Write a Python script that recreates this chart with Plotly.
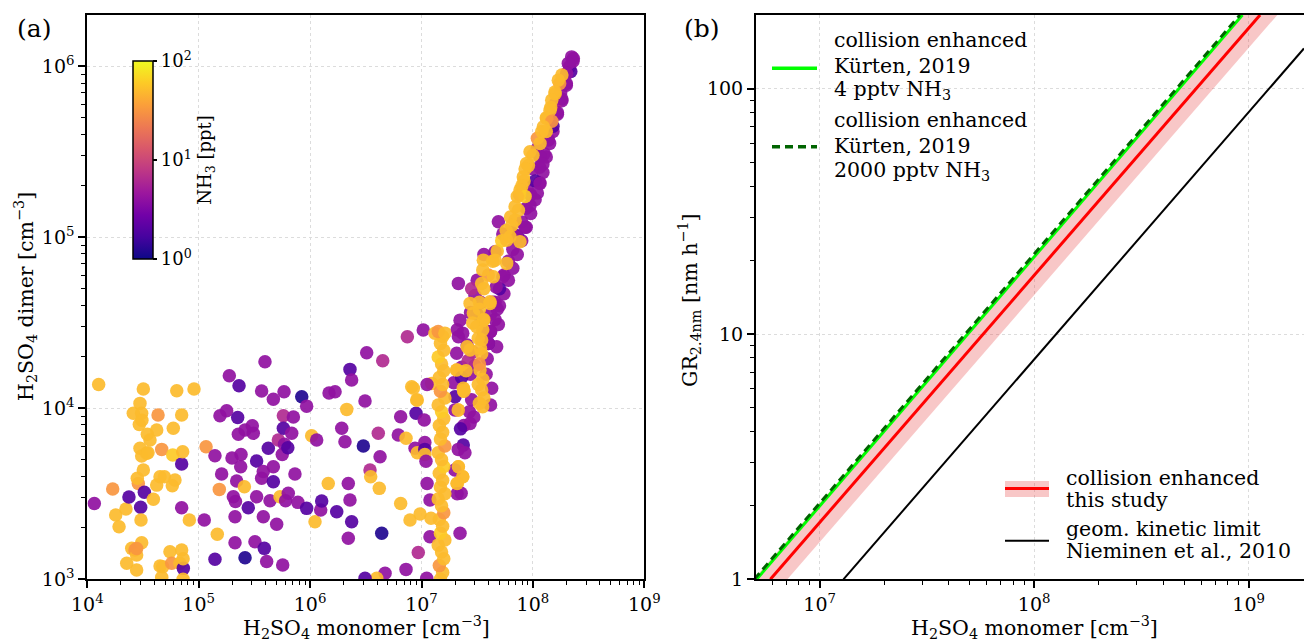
import numpy as np
import plotly.graph_objects as go

W, H = 1304, 642

# ---------------- Panel (a) data: log10 monomer, log10 dimer, NH3 (ppt) ----------------
log_monomer = [
    4.063, 4.102, 4.228, 4.255, 4.285, 4.347, 4.374, 4.354, 4.399, 4.428, 4.443, 4.443, 4.413, 4.473, 4.488,
    4.503, 4.467, 4.490, 4.473, 4.488, 4.533, 4.458, 4.449, 4.512, 4.503, 4.479, 4.482, 4.488, 4.443, 4.539,
    4.563, 4.545, 4.635, 4.623, 4.593, 4.623, 4.653, 4.668, 4.653, 4.677, 4.668, 4.692, 4.742, 4.758, 4.763,
    4.787, 4.772, 4.767, 4.803, 4.832, 4.847, 4.847, 4.847, 4.856, 4.847, 4.862, 4.860, 4.916, 4.958, 4.860,
    5.066, 5.050, 5.167, 5.185, 5.146, 5.146, 5.191, 5.206, 5.251, 5.275, 5.299, 5.311, 5.330, 5.326, 5.326,
    5.341, 5.350, 5.362, 5.377, 5.356, 5.380, 5.416, 5.410, 5.416, 5.445, 5.490, 5.481, 5.520, 5.520, 5.505,
    5.565, 5.565, 5.580, 5.589, 5.580, 5.595, 5.610, 5.625, 5.640, 5.670, 5.670, 5.670, 5.700, 5.715, 5.730,
    5.750, 5.754, 5.760, 5.766, 5.760, 5.770, 5.780, 5.804, 5.800, 5.835, 5.850, 5.864, 5.890, 5.925, 5.969,
    5.969, 6.014, 6.044, 6.059, 6.095, 6.104, 6.163, 6.170,
    6.224, 6.358, 6.373, 6.284, 6.313, 6.329, 6.343, 6.358, 6.239, 6.373, 6.343, 6.493, 6.508, 6.478, 6.538,
    6.544, 6.612, 6.628, 6.621, 6.643, 6.652, 6.673, 6.598, 6.493, 6.792, 6.813, 6.813, 6.861, 6.861, 6.873,
    6.897, 6.912, 6.942, 6.951, 6.962, 6.962, 6.971, 6.987, 7.016, 7.025, 7.030, 7.030, 7.030, 7.047, 7.040,
    7.076, 7.076, 7.085, 7.050, 7.091, 7.121, 6.927, 6.957, 7.050,
    7.331, 7.316, 7.360, 7.375, 7.301, 7.330, 7.436, 7.380, 7.350, 7.375, 7.330, 7.390, 7.331, 7.370, 7.320,
    7.356, 7.320, 7.346, 7.300, 7.300, 7.400, 7.290, 7.316, 7.380, 7.430, 7.370,
    7.410, 7.320, 7.675, 7.630, 7.590, 7.620, 7.440, 7.360, 7.690,
    7.45, 7.48, 7.58, 7.60, 7.47, 7.42, 7.62, 7.56, 7.50, 7.64, 7.46, 7.53,
    7.48, 7.50, 7.45,
    8.33, 8.30, 8.26, 8.22, 8.18, 8.15, 8.12, 8.09, 8.06, 8.02, 7.98, 7.94, 7.90, 7.86, 7.82, 7.78, 7.74,
    7.70, 7.66, 7.62, 7.60, 8.25, 8.20, 8.10, 8.00, 7.95, 8.363,
    7.62, 7.66, 7.70, 7.74, 7.78, 7.82, 7.86, 7.90, 7.94, 7.98, 8.02, 8.06, 8.10, 8.14, 8.18, 8.22, 8.26,
    8.30, 8.34, 8.36,
    8.348, 8.318, 8.303, 8.040, 8.064, 8.090, 8.064, 8.040, 7.974, 7.690, 7.930, 7.730, 7.810, 7.860, 7.660,
    7.560, 7.730, 7.331, 7.670, 7.680, 7.440, 7.346,
    7.17, 7.19, 7.16, 7.20, 7.18, 7.15, 7.21, 7.17, 7.19, 7.16, 7.20, 7.18, 7.15, 7.21, 7.17, 7.19, 7.16,
    7.20, 7.18, 7.15, 7.21, 7.17, 7.19, 7.16, 7.20, 7.18, 7.15, 7.21, 7.17, 7.19, 7.16, 7.20, 7.18, 7.15,
    7.20, 7.17, 7.19, 7.15, 7.21,
    7.375, 7.330, 7.331, 7.370, 7.320, 7.400, 7.316, 7.380,
    7.495, 7.540, 7.540, 7.525, 7.550, 7.540, 7.549, 7.436, 7.466, 7.560, 7.615, 7.410, 7.510, 7.510, 7.520,
    7.52, 7.56, 7.53, 7.55,
    7.52, 7.56, 7.60, 7.64, 7.68, 7.72, 7.76, 7.80, 7.84, 7.88, 7.92, 7.96, 8.00, 8.04, 8.08, 8.12, 8.16,
    8.20, 8.24, 8.26,
    8.228, 8.198, 8.169, 8.154, 8.124, 8.170, 8.094, 8.120, 8.064, 7.974, 7.944, 7.930, 7.914, 7.900, 7.884,
    7.930, 7.860, 7.870, 7.840, 7.810, 7.765, 7.884, 7.795, 7.555, 7.660, 7.765, 7.645, 7.550, 7.540, 7.615,
    7.436, 7.520, 7.555, 7.460,
]
log_dimer = [
    3.444, 4.140, 3.528, 3.376, 3.308, 3.411, 3.481, 3.094, 3.181, 3.171, 3.142, 3.054, 3.971, 4.029, 3.971,
    4.113, 3.906, 3.930, 3.766, 3.721, 3.737, 3.561, 3.591, 3.509, 3.639, 3.421, 3.347, 3.214, 3.180, 3.848,
    3.815, 3.740, 3.961, 3.873, 3.468, 3.551, 3.600, 3.760, 3.078, 3.074, 3.012, 3.600, 3.161, 3.094, 3.547,
    3.581, 3.883, 3.727, 4.103, 3.094, 3.171, 3.961, 3.674, 3.746, 3.419, 3.064, 3.000, 3.347, 4.113, 3.120,
    3.775, 3.347, 3.263, 3.526, 3.723, 3.117, 3.957, 3.616, 3.986, 4.191, 3.709, 3.483, 3.455, 3.366, 3.214,
    3.575, 3.947, 4.132, 3.659, 3.848, 3.730, 3.873, 3.542, 3.126, 3.419, 3.854, 3.898, 3.692, 3.483, 3.220,
    4.101, 3.591, 3.630, 3.181, 3.366, 4.273, 3.104, 3.766, 3.460, 3.571, 3.659, 4.053, 3.322, 3.815, 3.483,
    3.730, 3.084, 3.957, 4.097, 3.883, 3.790, 3.460, 3.503, 3.770, 3.854, 3.950, 3.616, 3.450, 4.068, 4.013,
    3.415, 3.840, 3.337, 3.815, 3.405, 3.458, 3.561, 4.090,
    4.097, 4.228, 4.166, 3.883, 3.805, 3.994, 3.561, 3.464, 3.395, 3.337, 3.240, 4.043, 4.325, 3.780, 3.639,
    3.600, 3.854, 3.717, 3.532, 3.269, 4.278, 3.035, 3.006, 3.006, 3.844, 3.951, 3.444, 3.825, 3.058, 4.419,
    3.347, 4.126, 3.766, 3.971, 4.049, 3.740, 3.157, 3.382, 4.458, 3.932, 3.800, 3.760, 3.730, 3.006, 3.690,
    3.249, 3.464, 3.357, 3.560, 4.146, 4.439, 4.117, 4.049, 4.140,
    4.419, 4.322, 4.240, 4.117, 4.068, 3.990, 3.912, 3.900, 3.880, 3.785, 3.760, 3.740, 3.659, 3.600, 3.560,
    3.503, 3.500, 3.269, 3.640, 3.990, 4.220, 4.150, 4.224, 4.100, 3.980, 4.440,
    4.370, 4.460, 4.360, 4.117, 4.290, 4.450, 4.200, 4.180, 4.490,
    4.05, 4.25, 4.20, 4.38, 3.95, 4.28, 4.02, 4.44, 4.55, 4.62, 4.33, 4.62,
    4.66, 4.75, 4.70,
    6.00, 5.90, 5.80, 5.72, 5.62, 5.55, 5.47, 5.38, 5.32, 5.22, 5.14, 5.06, 4.98, 4.90, 4.82, 4.75, 4.67,
    4.60, 4.52, 4.45, 4.38, 5.85, 5.78, 5.58, 5.40, 5.30, 6.047,
    4.55, 4.62, 4.70, 4.78, 4.86, 4.93, 5.01, 5.09, 5.17, 5.25, 5.33, 5.41, 5.49, 5.57, 5.65, 5.73, 5.81,
    5.89, 5.97, 6.03,
    6.056, 6.018, 5.959, 5.520, 5.471, 5.430, 5.316, 5.260, 5.187, 5.091, 5.060, 5.020, 5.030, 5.000, 4.916,
    4.900, 4.770, 4.731, 4.710, 4.580, 4.560, 4.516,
    3.00, 3.04, 3.08, 3.12, 3.16, 3.20, 3.23, 3.27, 3.31, 3.35, 3.39, 3.43, 3.47, 3.50, 3.54, 3.58, 3.62,
    3.66, 3.70, 3.74, 3.78, 3.82, 3.86, 3.90, 3.94, 3.98, 4.02, 4.06, 4.10, 4.14, 4.18, 4.22, 4.26, 4.30,
    4.34, 4.38, 4.42, 4.45, 4.44,
    4.117, 3.990, 3.659, 3.600, 3.560, 4.220, 4.224, 4.100,
    4.477, 4.400, 4.320, 4.224, 4.170, 4.107, 4.009, 4.341, 4.556, 4.520, 4.614, 4.360, 4.410, 4.140, 4.030,
    4.26, 4.06, 4.35, 4.46,
    4.62, 4.70, 4.78, 4.86, 4.92, 4.98, 5.04, 5.12, 5.18, 5.25, 5.33, 5.42, 5.48, 5.58, 5.62, 5.70, 5.76,
    5.84, 5.90, 5.95,
    5.920, 5.851, 5.803, 5.744, 5.696, 5.680, 5.647, 5.620, 5.550, 5.501, 5.433, 5.400, 5.354, 5.300, 5.277,
    5.240, 5.240, 5.159, 5.101, 5.070, 4.984, 4.974, 5.004, 4.867, 4.867, 4.848, 4.770, 4.810, 4.730, 4.623,
    4.614, 4.580, 4.516, 4.500,
]
nh3_ppt = [
    4, 50, 32, 50, 50, 50, 2, 50, 50, 32, 50, 50, 50, 50, 50,
    50, 50, 50, 50, 50, 50, 32, 50, 2, 50, 2, 50, 50, 32, 50,
    50, 50, 32, 50, 50, 50, 50, 32, 50, 50, 50, 50, 50, 32, 50,
    50, 50, 60, 50, 50, 50, 50, 2, 50, 4, 2, 50, 50, 50, 50,
    32, 4, 50, 32, 4, 2, 4, 4, 4, 4, 4, 4, 4, 4, 4,
    4, 2, 2, 4, 4, 4, 4, 50, 1.2, 2, 4, 4, 2, 4, 4,
    4, 4, 4, 2, 4, 4, 4, 2, 4, 2, 4, 4, 4, 6.3, 50,
    4, 4, 6.3, 4, 2, 4, 4, 4, 2, 4, 4, 4, 4, 1.2, 4,
    2, 50, 50, 4, 4, 2, 50, 4,
    4, 2, 4, 4, 4, 50, 4, 4, 2, 2, 4, 4, 4, 1.2, 6.3,
    50, 6.3, 4, 50, 1.2, 6.3, 4, 50, 2, 4, 4, 50, 50, 4, 6.3,
    50, 50, 4, 2, 50, 50, 6.3, 50, 4, 4, 4, 2, 50, 4, 4,
    4, 4, 50, 4, 50, 50, 50, 50, 4,
    4, 4, 4, 50, 2, 50, 4, 4, 2, 2, 4, 4, 50, 50, 50,
    4, 4, 4, 4, 4, 50, 4, 50, 50, 4, 4,
    4, 4, 4, 4, 4, 4, 4, 2, 4,
    4, 4, 4, 2, 4, 6.3, 4, 4, 2, 4, 6.3, 4,
    4, 4, 6.3,
    4, 4, 4, 4, 4, 4, 4, 4, 4, 4, 4, 4, 4, 4, 4, 4, 4,
    4, 4, 4, 4, 4, 6.3, 4, 4, 4, 4,
    4, 4, 2, 4, 4, 4, 2, 4, 4, 4, 2, 4, 4, 4, 2, 4, 4,
    4, 2, 4,
    4, 4, 4, 4, 4, 4, 4, 4, 4, 4, 4, 4, 4, 4, 4,
    4, 4, 4, 4, 4, 4, 4,
    50, 50, 32, 50, 50, 50, 50, 60, 50, 50, 32, 50, 50, 50, 50, 50, 50,
    60, 50, 50, 32, 50, 50, 50, 50, 60, 50, 50, 32, 50, 50, 50, 50, 60,
    50, 50, 50, 32, 50,
    50, 50, 50, 50, 50, 50, 50, 50,
    50, 50, 50, 50, 50, 50, 50, 50, 50, 50, 50, 50, 50, 50, 50,
    32, 50, 50, 50,
    50, 50, 32, 50, 50, 60, 50, 50, 50, 32, 50, 50, 50, 32, 50, 50, 50,
    50, 32, 50,
    50, 50, 50, 50, 50, 32, 50, 50, 50, 50, 50, 50, 50, 50, 50,
    60, 50, 50, 50, 50, 50, 50, 50, 50, 50, 50, 50, 50, 50, 50,
    50, 50, 50, 50,
]

# ---------------- Panel (b) lines: (monomer, GR) end points ----------------
kurten4_x, kurten4_gr = [5.08e6, 9.35e8], [1, 200]
kurten2000_x, kurten2000_gr = [4.95e6, 9.1e8], [1, 200]
study_x, study_gr = [5.89e6, 1.13e9], [1, 200]
study_hi_x, study_hi_gr = [4.91e6, 9.4e8], [1, 200]
study_lo_x, study_lo_gr = [7.07e6, 1.36e9], [1, 200]
nieminen_x, nieminen_gr = [1.29e7, 1.81e9], [1, 146]

# ---------------- tick labels ----------------
a_xticks = [1e4, 1e5, 1e6, 1e7, 1e8, 1e9]
a_xtext = ["10<sup>4</sup>", "10<sup>5</sup>", "10<sup>6</sup>", "10<sup>7</sup>", "10<sup>8</sup>", "10<sup>9</sup>"]
a_yticks = [1e3, 1e4, 1e5, 1e6]
a_ytext = ["10<sup>3</sup>", "10<sup>4</sup>", "10<sup>5</sup>", "10<sup>6</sup>"]
b_xticks = [1e7, 1e8, 1e9]
b_xtext = ["10<sup>7</sup>", "10<sup>8</sup>", "10<sup>9</sup>"]
b_yticks = [1, 10, 100]
b_ytext = ["1", "10", "100"]
cb_text = ["10<sup>0</sup>", "10<sup>1</sup>", "10<sup>2</sup>"]

FONT = "DejaVu Serif"
TICK = 19


def minors(e0, e1, lo=None, hi=None):
    v = [m * 10.0 ** e for e in range(e0, e1) for m in range(2, 10)]
    if lo is not None:
        v = [t for t in v if t >= lo]
    if hi is not None:
        v = [t for t in v if t <= hi]
    return v


def px(x):
    return x / W


def py(y):
    return 1 - y / H


fig = go.Figure()

CB_X0, CB_X1, CB_TOP, CB_BOT = 133, 153, 61, 259.3

fig.add_trace(go.Scatter(
    x=10 ** np.array(log_monomer), y=10 ** np.array(log_dimer), mode="markers",
    xaxis="x", yaxis="y",
    marker=dict(size=13.5, opacity=0.92, line=dict(width=0),
                color=np.log10(np.array(nh3_ppt)), colorscale="Plasma", cmin=0, cmax=2,
                showscale=True,
                colorbar=dict(x=px(CB_X0), xanchor="left", y=py(CB_TOP), yanchor="top",
                              len=CB_BOT - CB_TOP, lenmode="pixels", thickness=CB_X1 - CB_X0,
                              thicknessmode="pixels",
                              xpad=0, ypad=0, outlinewidth=1.5, outlinecolor="black",
                              tickvals=[0, 1, 2], ticktext=cb_text, ticks="outside", ticklen=4,
                              tickwidth=1.5, tickcolor="black",
                              tickfont=dict(family=FONT, size=18, color="black"),
                              title=dict(text="NH<sub>3</sub> [ppt]", side="right",
                                         font=dict(family=FONT, size=18, color="black")))),
    hoverinfo="skip", showlegend=False))

# band (this study)
fig.add_trace(go.Scatter(x=study_hi_x, y=study_hi_gr, mode="lines", line=dict(width=0, color="rgba(0,0,0,0)"),
                         xaxis="x2", yaxis="y2", showlegend=False, hoverinfo="skip"))
fig.add_trace(go.Scatter(x=study_lo_x, y=study_lo_gr, mode="lines", line=dict(width=0, color="rgba(0,0,0,0)"),
                         fill="tonexty", fillcolor="rgba(232,70,70,0.30)",
                         xaxis="x2", yaxis="y2", showlegend=False, hoverinfo="skip"))
fig.add_trace(go.Scatter(x=study_x, y=study_gr, mode="lines", line=dict(width=3, color="#ff0000"),
                         xaxis="x2", yaxis="y2", showlegend=False, hoverinfo="skip"))
fig.add_trace(go.Scatter(x=kurten4_x, y=kurten4_gr, mode="lines", line=dict(width=3, color="#00ff00"),
                         xaxis="x2", yaxis="y2", showlegend=False, hoverinfo="skip"))
fig.add_trace(go.Scatter(x=kurten2000_x, y=kurten2000_gr, mode="lines",
                         line=dict(width=3, color="#006400", dash="8px,5px"),
                         xaxis="x2", yaxis="y2", showlegend=False, hoverinfo="skip"))
fig.add_trace(go.Scatter(x=nieminen_x, y=nieminen_gr, mode="lines", line=dict(width=2, color="black"),
                         xaxis="x2", yaxis="y2", showlegend=False, hoverinfo="skip"))

axis_common = dict(type="log", showline=True, linewidth=2, linecolor="black",
                   ticks="outside", ticklen=7, tickwidth=1.8, tickcolor="black",
                   tickfont=dict(family=FONT, size=TICK, color="black"),
                   showgrid=True, gridcolor="#dcdcdc", gridwidth=1, griddash="dot",
                   zeroline=False, automargin=False, tickmode="array")
minor_common = dict(ticks="outside", ticklen=4, tickwidth=1.2, tickcolor="black", showgrid=False,
                    tickmode="array")

ydom = [py(579.3), py(15)]
fig.update_layout(
    width=W, height=H, margin=dict(l=0, r=0, t=0, b=0),
    paper_bgcolor="white", plot_bgcolor="white", showlegend=False,
    xaxis=dict(axis_common, domain=[px(87.3), px(644.3)], range=[4, 9], anchor="y", mirror=True,
               tickvals=a_xticks, ticktext=a_xtext,
               minor=dict(minor_common, tickvals=minors(4, 9))),
    yaxis=dict(axis_common, domain=ydom, range=[3, 6.301], anchor="x", mirror=True,
               tickvals=a_yticks, ticktext=a_ytext,
               minor=dict(minor_common, tickvals=minors(3, 6))),
    xaxis2=dict(axis_common, domain=[px(756), 1.0], range=[6.703, 9.258], anchor="y2", mirror=True,
                tickvals=b_xticks, ticktext=b_xtext,
                minor=dict(minor_common, tickvals=minors(6, 9, lo=5.5e6))),
    yaxis2=dict(axis_common, domain=ydom, range=[0, 2.301], anchor="x2", mirror=False,
                tickvals=b_yticks, ticktext=b_ytext,
                minor=dict(minor_common, tickvals=minors(0, 2))),
)

ann = []


def text(x, y, s, size=21, angle=0, xa="center", ya="middle", align="left"):
    ann.append(dict(x=px(x), y=py(y), xref="paper", yref="paper", text=s, showarrow=False,
                    textangle=angle, xanchor=xa, yanchor=ya, align=align,
                    font=dict(family=FONT, size=size, color="black")))


text(34, 28, "(a)", size=25)
text(702, 28, "(b)", size=25)
text(366, 627, "H<sub>2</sub>SO<sub>4</sub> monomer [cm<sup>\u22123</sup>]", size=20.5)
text(1034, 627, "H<sub>2</sub>SO<sub>4</sub> monomer [cm<sup>\u22123</sup>]", size=20.5)
text(25, 297, "H<sub>2</sub>SO<sub>4</sub> dimer [cm<sup>\u22123</sup>]", size=20.5, angle=-90)
text(689, 300, "GR<sub>2.4nm</sub> [nm h<sup>\u22121</sup>]", size=20.5, angle=-90)

# legends (panel b), one annotation per text line
LEG = 20.5
legend_lines = [
    (832, 40.5, "collision enhanced"), (832, 65.5, "K\u00fcrten, 2019"), (832, 90.5, "4 pptv NH<sub>3</sub>"),
    (832, 120, "collision enhanced"), (832, 146, "K\u00fcrten, 2019"), (832, 171, "2000 pptv NH<sub>3</sub>"),
    (1064, 477.5, "collision enhanced"), (1064, 499.5, "this study"),
    (1064, 529, "geom. kinetic limit"), (1064, 551, "Nieminen et al., 2010"),
]
for lx, ly, s in legend_lines:
    text(lx, ly, s, size=LEG, xa="left")

shapes = [
    dict(type="line", xref="paper", yref="paper", x0=px(772), x1=px(817), y0=py(68.3), y1=py(68.3),
         line=dict(color="#00ff00", width=3.5)),
    dict(type="line", xref="paper", yref="paper", x0=px(772), x1=px(817), y0=py(146.7), y1=py(146.7),
         line=dict(color="#006400", width=3.5, dash="8px,5px")),
    dict(type="rect", xref="paper", yref="paper", x0=px(1005), x1=px(1049), y0=py(497), y1=py(481),
         fillcolor="rgba(232,70,70,0.30)", line=dict(width=0)),
    dict(type="line", xref="paper", yref="paper", x0=px(1005), x1=px(1049), y0=py(488.5), y1=py(488.5),
         line=dict(color="#ff0000", width=3)),
    dict(type="line", xref="paper", yref="paper", x0=px(1005), x1=px(1049), y0=py(540.7), y1=py(540.7),
         line=dict(color="black", width=2)),
]

# colorbar minor ticks (log scale 1..100 ppt), drawn on both edges of the bar
cb_minor = [np.log10(m) + d for d in (0, 1) for m in range(2, 10)]
for v in cb_minor:
    yy = CB_BOT - v / 2 * (CB_BOT - CB_TOP)
    for x0, x1 in ((CB_X0, CB_X0 + 2.5), (CB_X1 - 2.5, CB_X1)):
        shapes.append(dict(type="line", xref="paper", yref="paper", x0=px(x0), x1=px(x1),
                           y0=py(yy), y1=py(yy), line=dict(color="black", width=1.2)))

fig.update_layout(annotations=ann, shapes=shapes)
fig.write_html(
    "out.html",
    config={"displayModeBar": False},
    post_script="document.body.style.margin='0';document.body.style.padding='0';"
                "document.body.style.overflow='hidden';",
)
